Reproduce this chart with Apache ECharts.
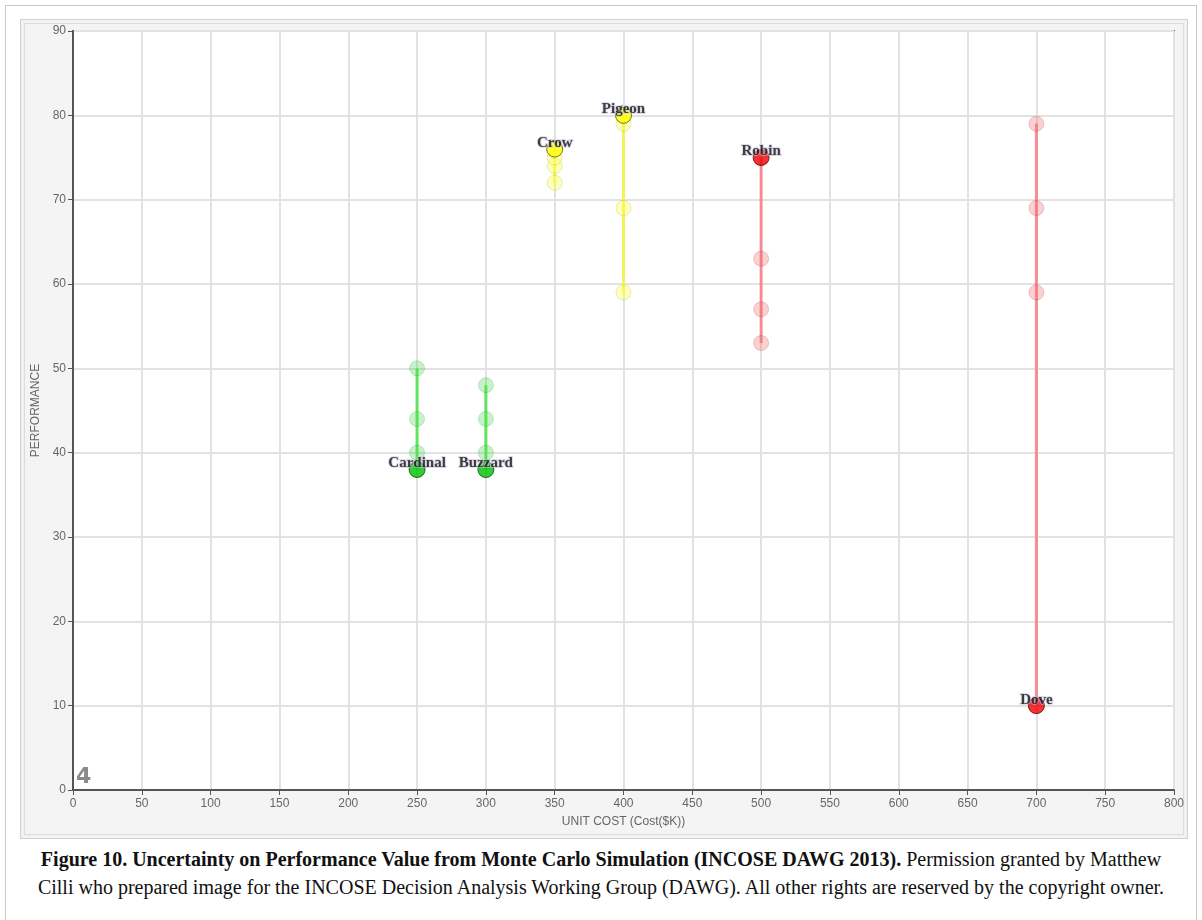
<!DOCTYPE html>
<html>
<head>
<meta charset="utf-8">
<script src="https://cdn.jsdelivr.net/npm/echarts@6/dist/echarts.min.js"></script>
<style>
  html, body { margin: 0; padding: 0; background: #fff; }
  body { width: 1202px; height: 920px; position: relative; overflow: hidden; }
  #frame { position: absolute; left: 5px; top: 5px; width: 1190px; height: 930px; border: 1px solid #c8c8c8; }
  #panel { position: absolute; left: 20px; top: 19px; width: 1166px; height: 818px; background: #f4f4f4;
    border: 1px solid #d0d0d0; box-shadow: inset 0 0 0 3px #f2f2f2, inset 0 0 0 4px #dcdcdc; }
  #chart { position: absolute; left: 0; top: 0; width: 1202px; height: 845px; }
  #caption { position: absolute; left: 0; top: 845px; width: 1202px; text-align: center;
    font-family: "Liberation Serif", "Times New Roman", serif; font-size: 20px; line-height: 28px; color: #111; }
</style>
</head>
<body>
<div id="frame"></div>
<div id="panel"></div>
<div id="chart"></div>
<div id="caption"><b>Figure 10. Uncertainty on Performance Value from Monte Carlo Simulation (INCOSE DAWG 2013).</b> Permission granted by Matthew<br>Cilli who prepared image for the INCOSE Decision Analysis Working Group (DAWG). All other rights are reserved by the copyright owner.</div>
<script>
// alternatives and their deterministic position
const birds = ['Cardinal', 'Buzzard', 'Crow', 'Pigeon', 'Robin', 'Dove']
const unitCost = [250, 300, 350, 400, 500, 700]
const basePerf = [38, 38, 76, 80, 75, 10]
// simulated performance values (faded dots)
const simPerf = [
  [40, 44, 50],
  [40, 44, 48],
  [72, 74, 75],
  [79, 69, 59],
  [63, 57, 53],
  [79, 69, 59]
]
const groups = ['green', 'green', 'yellow', 'yellow', 'red', 'red']

const palette = {
  green: { main: '#00c000', edge: '#005000', faded: 'rgba(80,215,80,0.32)', fadedEdge: 'rgba(0,140,0,0.18)', line: '#5fe65f' },
  yellow: { main: '#ffff00', edge: '#505000', faded: 'rgba(255,255,90,0.40)', fadedEdge: 'rgba(170,170,0,0.25)', line: '#f2f25a' },
  red: { main: '#f00000', edge: '#600000', faded: 'rgba(240,110,110,0.32)', fadedEdge: 'rgba(170,0,0,0.18)', line: 'rgba(250,110,120,0.75)' }
}

const chart = echarts.init(document.getElementById('chart'))

const series = []
birds.forEach((name, i) => {
  const c = palette[groups[i]]
  const pts = [basePerf[i], ...simPerf[i]].sort((a, b) => a - b)
  series.push({
    type: 'line', name: name + ' range', z: 2,
    symbol: 'circle', symbolSize: 15,
    lineStyle: { color: c.line, width: 3 },
    itemStyle: { color: c.faded, borderColor: c.fadedEdge, borderWidth: 1 },
    data: pts.map(v => v === basePerf[i]
      ? { value: [unitCost[i], v], symbolSize: 0 }
      : { value: [unitCost[i], v] })
  })
})

series.push({
  type: 'scatter', name: 'base', z: 5,
  symbol: 'circle', symbolSize: 16,
  data: birds.map((name, i) => ({
    name,
    value: [unitCost[i], basePerf[i]],
    itemStyle: { color: palette[groups[i]].main, borderColor: palette[groups[i]].edge, borderWidth: 1 }
  })),
  label: {
    show: true, position: 'inside', offset: [0, -6],
    formatter: p => p.name,
    fontFamily: 'Liberation Serif', fontWeight: 'bold', fontSize: 15, color: '#111',
    textBorderColor: 'rgba(200,190,220,0.7)', textBorderWidth: 2
  }
})

const axisFont = { fontFamily: 'Liberation Sans', fontSize: 12, color: '#666' }

chart.setOption({
  animation: false,
  grid: { left: 73, right: 28, top: 31, bottom: 55, show: true, backgroundColor: '#fff', borderColor: '#555', borderWidth: 2 },
  xAxis: {
    type: 'value', min: 0, max: 800, interval: 50,
    name: 'UNIT COST (Cost($K))', nameLocation: 'middle', nameGap: 26,
    nameTextStyle: axisFont,
    axisLine: { show: true, lineStyle: { color: '#555', width: 2 } },
    axisTick: { show: true, length: 5, lineStyle: { color: '#555' } },
    axisLabel: Object.assign({ margin: 8 }, axisFont),
    splitLine: { lineStyle: { color: '#e2e2e2', width: 2 } }
  },
  yAxis: {
    type: 'value', min: 0, max: 90, interval: 10,
    name: 'PERFORMANCE', nameLocation: 'middle', nameGap: 27, nameRotate: 90,
    nameTextStyle: axisFont,
    axisLine: { show: true, lineStyle: { color: '#555', width: 2 } },
    axisTick: { show: true, length: 5, lineStyle: { color: '#555' } },
    axisLabel: Object.assign({ margin: 7 }, axisFont),
    splitLine: { lineStyle: { color: '#e2e2e2', width: 2 } }
  },
  graphic: [{
    type: 'text', left: 76, top: 766, z: 10,
    style: { text: '4', fontFamily: 'DejaVu Sans', fontWeight: 'bold', fontSize: 22, fill: '#8a8a8a' }
  }],
  series
})
</script>
</body>
</html>
